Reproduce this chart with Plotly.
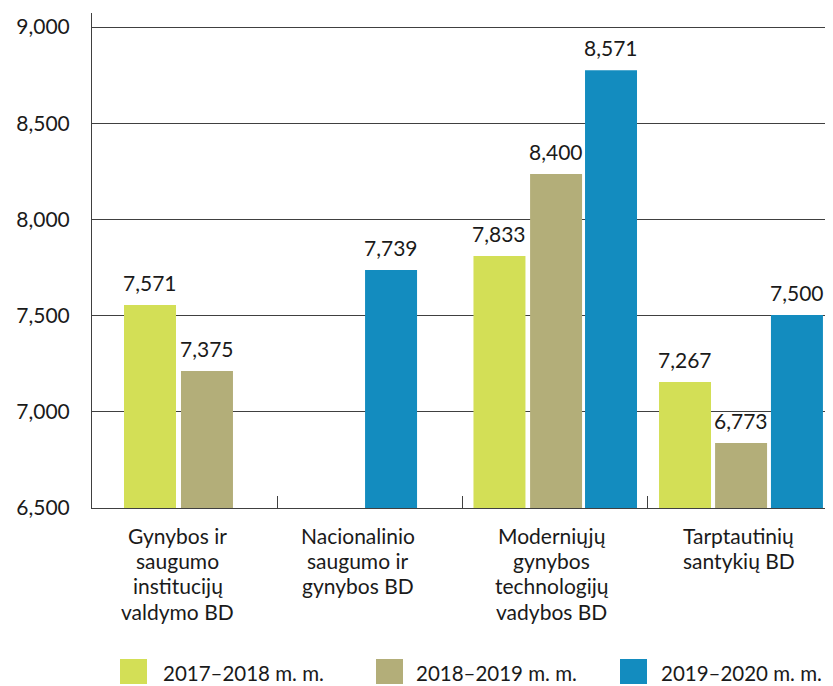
import plotly.graph_objects as go

# ---------------- data ----------------
categories = ["Gynybos", "Nacionalinio", "Moderniųjų", "Tarptautinių"]
category_lines = [
    ["Gynybos ir", "saugumo", "institucijų", "valdymo BD"],
    ["Nacionalinio", "saugumo ir", "gynybos BD"],
    ["Moderniųjų", "gynybos", "technologijų", "vadybos BD"],
    ["Tarptautinių", "santykių BD"],
]
series_names = ["2017–2018 m. m.", "2018–2019 m. m.", "2019–2020 m. m."]

# value labels printed above the bars
labels_2017_2018 = ["7,571", None, "7,833", "7,267"]
labels_2018_2019 = ["7,375", None, "8,400", "6,773"]
labels_2019_2020 = [None, "7,739", "8,571", "7,500"]

heights_2017_2018 = [7555, None, 7810, 7155]
heights_2018_2019 = [7212, None, 8236, 6838]
heights_2019_2020 = [None, 7737, 8776, 7503]

y_ticks = [6500, 7000, 7500, 8000, 8500, 9000]

# ---------------- style ----------------
colors = ["#D3DF56", "#B3AE79", "#138CBF"]
bar_width = 0.281
offsets = [
    [-0.327, 0.0, -0.438, -0.435],
    [-0.019, 0.0, -0.132, -0.132],
    [0.0, -0.024, 0.165, 0.170],
]
label_xshift = [-7, -12, -3, -1]
FONT = "Lato"
TXT = "#1a1a1a"
LINE = "#404040"

PAGE = 8  # default page margin around the figure
W, H = 833 - PAGE, 686 - PAGE
ML, MR, MT, MB = 84, 1, 5, 178
PW, PH = W - ML - MR, H - MT - MB
PLOT_BOTTOM = PAGE + H - MB  # in window pixels


def xp(px):
    return (px - PAGE - ML) / PW


def yp(py):
    return (H - MB - (py - PAGE)) / PH


heights = [heights_2017_2018, heights_2018_2019, heights_2019_2020]
labels = [labels_2017_2018, labels_2018_2019, labels_2019_2020]

fig = go.Figure()
annotations = []
for s in range(3):
    fig.add_trace(go.Bar(
        x=categories,
        y=heights[s],
        name=series_names[s],
        marker=dict(color=colors[s], line=dict(width=0)),
        width=bar_width,
        offset=offsets[s],
        showlegend=False,
        hoverinfo="skip",
    ))
    for i, (h, lab) in enumerate(zip(heights[s], labels[s])):
        if h is None:
            continue
        annotations.append(dict(
            x=i + offsets[s][i] + bar_width / 2, y=h, xref="x", yref="y",
            text=lab, showarrow=False, yanchor="bottom", xanchor="center",
            yshift=8, font=dict(family=FONT, size=21, color=TXT),
        ))

# category labels (multi-line, tight spacing)
first_line_center, line_step = 535, 25.4
for i, lines in enumerate(category_lines):
    for j, ln in enumerate(lines):
        annotations.append(dict(
            x=i, y=0, xref="x", yref="paper", text=ln, showarrow=False,
            xanchor="center", yanchor="middle", borderpad=0,
            xshift=label_xshift[i],
            yshift=-(first_line_center + j * line_step - PLOT_BOTTOM),
            font=dict(family=FONT, size=21, color=TXT),
        ))

# custom legend
shapes = []
legend_marker_x = [120, 376, 620]
legend_text_x = [161, 414, 659]
for s in range(3):
    shapes.append(dict(
        type="rect", xref="paper", yref="paper",
        x0=xp(legend_marker_x[s]), x1=xp(legend_marker_x[s] + 27),
        y0=yp(684), y1=yp(659),
        fillcolor=colors[s], line=dict(width=0),
    ))
    annotations.append(dict(
        x=xp(legend_text_x[s]), y=yp(673), xref="paper", yref="paper",
        text=series_names[s], showarrow=False, xanchor="left", yanchor="middle",
        font=dict(family=FONT, size=20.5, color=TXT),
    ))

fig.update_layout(
    width=W, height=H,
    margin=dict(l=ML, r=MR, t=MT, b=MB, pad=0),
    paper_bgcolor="white", plot_bgcolor="white",
    barmode="overlay",
    annotations=annotations,
    shapes=shapes,
    showlegend=False,
    font=dict(family=FONT, color=TXT),
)
fig.update_xaxes(
    type="category", range=[-0.5, 3.5],
    showticklabels=False, showgrid=False,
    showline=True, linecolor=LINE, linewidth=1,
    ticks="inside", tickson="boundaries", ticklen=12, tickcolor=LINE, tickwidth=1,
)
fig.update_yaxes(
    range=[6500, 9073], tickvals=y_ticks, tickformat=",d",
    showgrid=True, gridcolor=LINE, gridwidth=1, zeroline=False,
    showline=True, linecolor=LINE, linewidth=1, ticks="",
    ticklabelstandoff=17,
    tickfont=dict(family=FONT, size=21, color=TXT),
)

fig.write_html("out.html")
